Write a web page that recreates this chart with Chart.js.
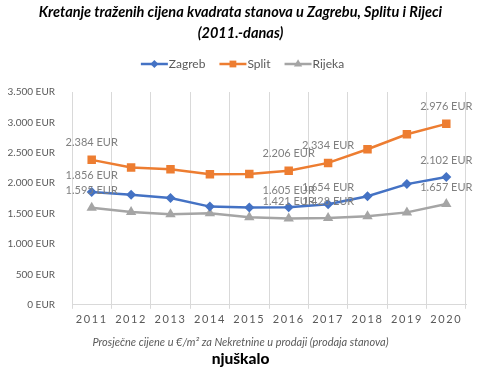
<!DOCTYPE html>
<html>
<head>
<meta charset="utf-8">
<script src="https://cdn.jsdelivr.net/npm/chart.js@4"></script>
<style>
  html, body { margin: 0; padding: 0; background: #fff; }
  #wrap { position: relative; width: 480px; height: 371px; overflow: hidden; }
  #c { position: absolute; left: 0; top: 0; }
  .txt { position: absolute; left: 0; width: 481px; text-align: center; white-space: nowrap; }
  #t1 { top: 3px; font: italic bold 14.5px Lato, sans-serif; color: #000; }
  #t2 { top: 24px; font: italic bold 14.5px Lato, sans-serif; color: #000; }
  #foot { top: 335px; font: italic 11px Lato, sans-serif; color: #595959; }
  #brand { top: 349px; font: 900 15.5px Lato, sans-serif; color: #000; }
</style>
</head>
<body>
<div id="wrap">
  <canvas id="c" width="480" height="371"></canvas>
  <div class="txt" id="t1">Kretanje traženih cijena kvadrata stanova u Zagrebu, Splitu i Rijeci</div>
  <div class="txt" id="t2">(2011.-danas)</div>
  <div class="txt" id="foot">Prosječne cijene u €/m² za Nekretnine u prodaji (prodaja stanova)</div>
  <div class="txt" id="brand">njuškalo</div>
</div>
<script>
const years  = ['2011','2012','2013','2014','2015','2016','2017','2018','2019','2020'];
const zagreb = [1856, 1810, 1755, 1615, 1600, 1605, 1654, 1785, 1985, 2102];
const split  = [2384, 2260, 2228, 2146, 2150, 2206, 2334, 2558, 2805, 2976];
const rijeka = [1595, 1525, 1490, 1505, 1440, 1421, 1428, 1455, 1520, 1657];
const labelled = [0, 5, 6, 9];   // points that carry a value label

const fmt = v => String(v).replace(/\B(?=(\d{3})+(?!\d))/g, '.') + ' EUR';

// value labels above selected points
const valueLabels = {
  id: 'valueLabels',
  afterDatasetsDraw(chart) {
    const ctx = chart.ctx;
    ctx.save();
    ctx.font = '11px Lato, sans-serif';
    ctx.fillStyle = '#808080';
    ctx.textAlign = 'center';
    ctx.textBaseline = 'middle';
    chart.data.datasets.forEach((ds, i) => {
      const meta = chart.getDatasetMeta(i);
      labelled.forEach(j => {
        const p = meta.data[j];
        ctx.fillText(fmt(ds.data[j]), p.x, p.y - 17);
      });
    });
    ctx.restore();
  }
};

// excel style legend: short line with marker, then name
const lineLegend = {
  id: 'lineLegend',
  afterDraw(chart) {
    const ctx = chart.ctx;
    ctx.save();
    ctx.font = '12px Lato, sans-serif';
    ctx.textBaseline = 'middle';
    const y = 64, lineW = 27, gap = 13;
    const items = chart.data.datasets.map(ds => ({ ds, w: lineW + 2 + ctx.measureText(ds.label).width }));
    const total = items.reduce((s, it) => s + it.w, 0) + gap * (items.length - 1);
    let x = 243 - total / 2;
    items.forEach(({ ds, w }) => {
      ctx.strokeStyle = ds.borderColor;
      ctx.lineWidth = 2.5;
      ctx.beginPath(); ctx.moveTo(x, y); ctx.lineTo(x + lineW, y); ctx.stroke();
      ctx.fillStyle = ds.borderColor;
      Chart.helpers.drawPoint(ctx, { pointStyle: ds.pointStyle, radius: ds.pointRadius * 0.8, borderWidth: 0 }, x + lineW / 2, y);
      ctx.fillStyle = '#595959';
      ctx.fillText(ds.label, x + lineW + 1, y);
      x += w + gap;
    });
    ctx.restore();
  }
};

// spaced-out year labels like the original
const spacedX = {
  id: 'spacedX',
  afterLayout(chart) {
    const s = chart.scales.x;
    if (s._spaced) return;
    const orig = s.drawLabels.bind(s);
    s.drawLabels = function (area) {
      const c = this.ctx;
      const prev = c.letterSpacing;
      c.letterSpacing = '1.6px';
      orig(area);
      c.letterSpacing = prev;
    };
    s._spaced = true;
  }
};

new Chart(document.getElementById('c'), {
  type: 'line',
  data: {
    labels: years,
    datasets: [
      { label: 'Zagreb', data: zagreb, borderColor: '#4472C4', backgroundColor: '#4472C4', pointStyle: 'rectRot', pointRadius: 5, borderWidth: 2.5, pointBorderWidth: 0 },
      { label: 'Split', data: split, borderColor: '#ED7D31', backgroundColor: '#ED7D31', pointStyle: 'rect', pointRadius: 6, borderWidth: 2.5, pointBorderWidth: 0 },
      { label: 'Rijeka', data: rijeka, borderColor: '#A5A5A5', backgroundColor: '#A5A5A5', pointStyle: 'triangle', pointRadius: 6, borderWidth: 2.5, pointBorderWidth: 0 }
    ]
  },
  options: {
    responsive: false, animation: false,
    layout: { padding: { top: 92, right: 14, bottom: 41, left: 8 } },
    plugins: { legend: { display: false }, tooltip: { enabled: false } },
    scales: {
      x: {
        offset: true,
        grid: { offset: true, color: '#d9d9d9', tickLength: 4, drawTicks: true },
        border: { color: '#d9d9d9' },
        ticks: { color: '#595959', font: { family: 'Lato', size: 11 }, padding: 4 }
      },
      y: {
        min: 0, max: 3500,
        afterFit: s => { s.width = 64; },
        grid: { display: false },
        border: { display: false },
        ticks: { stepSize: 500, color: '#595959', font: { family: 'Lato', size: 10 }, padding: 9, callback: v => fmt(v) }
      }
    }
  },
  plugins: [valueLabels, lineLegend, spacedX]
});
</script>
</body>
</html>
